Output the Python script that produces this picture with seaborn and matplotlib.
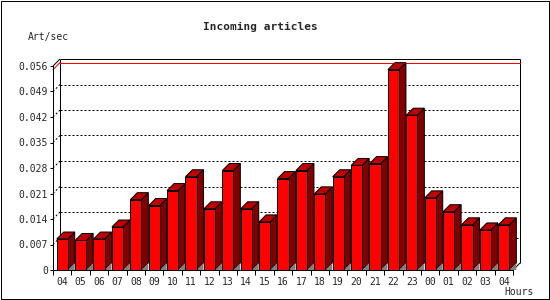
import numpy as np
import pandas as pd
import matplotlib
matplotlib.use("Agg")
import matplotlib.pyplot as plt
from matplotlib.patches import Polygon, Rectangle
import seaborn as sns

# ---- data ----
hours = ["04", "05", "06", "07", "08", "09", "10", "11", "12", "13", "14", "15",
         "16", "17", "18", "19", "20", "21", "22", "23", "00", "01", "02", "03", "04"]
rates = [0.0085, 0.0081, 0.0085, 0.0118, 0.0193, 0.0177, 0.0218, 0.0256, 0.0168,
         0.0273, 0.0168, 0.0132, 0.0251, 0.0273, 0.0209, 0.0256, 0.0287, 0.0292,
         0.0550, 0.0425, 0.0198, 0.0160, 0.0124, 0.0110, 0.0124]
yticks = [0, 0.007, 0.014, 0.021, 0.028, 0.035, 0.042, 0.049, 0.056]
ytick_labels = ["0", "0.007", "0.014", "0.021", "0.028", "0.035", "0.042", "0.049", "0.056"]
title = "Incoming articles"
ylabel = "Art/sec"
xlabel = "Hours"

sns.set_style("white")
plt.rcParams["font.family"] = ["DejaVu Sans Mono", "DejaVu Sans"]

W, H = 550, 300
fig = plt.figure(figsize=(W / 100, H / 100), dpi=100)
fig.patch.set_facecolor("white")

# front plane in pixels: x 53..513, y 270 (0) .. 66 (top)
L, R, B, T = 53, 513, 270, 66
ax = fig.add_axes([L / W, 1 - B / H, (R - L) / W, (B - T) / H])
ax.set_facecolor("none")

df = pd.DataFrame({"pos": np.arange(len(rates)), "rate": rates})
sns.barplot(data=df, x="pos", y="rate", color="#ff0000", saturation=1,
            width=0.6, edgecolor="black", linewidth=0.72, ax=ax, zorder=5)

n = len(rates)
ymax = yticks[-1]
ax.set_xlim(-0.5, n - 0.5)
ax.set_ylim(0, ymax)

# depth offset (7 px right, 7 px up) in data units
px_x = n / (R - L)
px_y = ymax / (B - T)
dx, dy = 7 * px_x, 7 * px_y

lw = 0.72
x0, x1 = -0.5, n - 0.5
kw = dict(color="black", lw=lw, clip_on=False, solid_capstyle="butt")

# back plane frame
ax.plot([x0 + dx, x0 + dx], [dy, ymax + dy], zorder=2, **kw)
ax.plot([x0 + dx, x1 + dx], [ymax + dy, ymax + dy], zorder=2, **kw)
ax.plot([x1 + dx, x1 + dx], [dy, ymax + dy], zorder=2, **kw)
ax.plot([x0, x0 + dx], [ymax, ymax + dy], zorder=2, **kw)
ax.plot([x1, x1 + dx], [0, dy], zorder=2, **kw)

# dotted gridlines on back plane
for v in yticks[1:-1]:
    ax.plot([x0 + dx, x1 + dx], [v + dy, v + dy], color="black", lw=lw,
            linestyle=(0, (2, 2)), zorder=1, clip_on=False)
    ax.plot([x0, x0 + dx], [v, v + dy], color="black", lw=lw,
            linestyle=(0, (2, 2)), zorder=1, clip_on=False)

# max line (red)
vmax = max(rates)
ax.plot([x0 + dx, x1 + dx], [vmax + dy, vmax + dy], color="red", lw=lw,
        zorder=3, clip_on=False)
ax.plot([x0, x0 + dx], [vmax, vmax + dy], color="red", lw=lw, zorder=3, clip_on=False)

# 3D sides and tops of bars
for p in ax.patches[:n]:
    bx, bw, bh = p.get_x(), p.get_width(), p.get_height()
    xr = bx + bw
    side = Polygon([(xr, 0), (xr + dx, dy), (xr + dx, bh + dy), (xr, bh)],
                   closed=True, facecolor="#800000", edgecolor="black",
                   lw=lw, zorder=4, clip_on=False)
    top = Polygon([(bx, bh), (bx + dx, bh + dy), (xr + dx, bh + dy), (xr, bh)],
                  closed=True, facecolor="#c00000", edgecolor="black",
                  lw=lw, zorder=4, clip_on=False)
    shadow = Polygon([(xr, 0), (xr + dx, dy), (xr + dx, 0)], closed=True,
                     facecolor="#808080", edgecolor="none", zorder=4.5, clip_on=False)
    ax.add_patch(side)
    ax.add_patch(top)
    ax.add_patch(shadow)

# front axes
for s in ["top", "right"]:
    ax.spines[s].set_visible(False)
for s in ["left", "bottom"]:
    ax.spines[s].set_linewidth(lw)
    ax.spines[s].set_color("black")
    ax.spines[s].set_zorder(6)

ax.set_yticks(yticks)
ax.set_yticklabels(ytick_labels)
ax.set_xticks(np.arange(n))
ax.set_xticklabels(hours)
ax.set_xticks(np.arange(n + 1) - 0.5, minor=True)
ax.tick_params(axis="y", which="major", direction="out", length=2.2, width=lw,
               pad=1.5, labelsize=7, left=True, color="black")
ax.tick_params(axis="x", which="major", length=0, pad=5, labelsize=7)
ax.tick_params(axis="x", which="minor", direction="out", length=3.6, width=lw,
               bottom=True, color="black")
ax.set_xlabel("")
ax.set_ylabel("")

fig.text(260 / W, 1 - 27 / H, title, ha="center", va="center",
         fontsize=8, fontweight="bold")
fig.text(28 / W, 1 - 37 / H, ylabel, ha="left", va="center", fontsize=7)
fig.text(504 / W, 1 - 292 / H, xlabel, ha="left", va="center", fontsize=7)

fig.patches.append(Rectangle((0.5 / W, 1.2 / H), 548 / W, 298 / H,
                             transform=fig.transFigure, fill=False,
                             edgecolor="black", lw=lw))

fig.savefig("out.png", dpi=100, facecolor="white")
